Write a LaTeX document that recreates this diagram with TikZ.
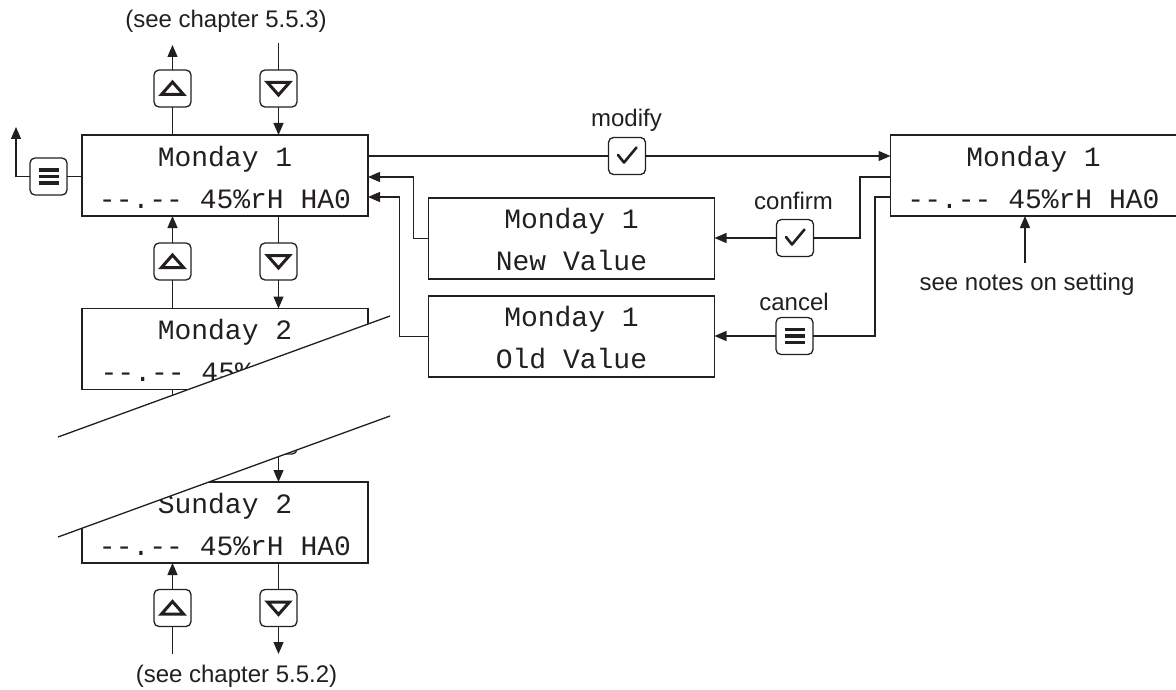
\documentclass[tikz,border=0pt]{standalone}
\usepackage{fontspec}
\setmainfont{Liberation Sans}
\newfontfamily\lcdfont{Liberation Mono}
\usetikzlibrary{arrows.meta,calc}
\definecolor{ink}{RGB}{35,31,32}
\begin{document}
\begin{tikzpicture}[x=1pt,y=-1pt, line width=1.3pt, color=ink,
  lcd/.style={draw, minimum width=286pt, minimum height=81pt, inner sep=0pt, outer sep=0pt},
  lcdtxt/.style={font=\lcdfont\fontsize{28}{30}\selectfont, inner sep=0pt, anchor=base},
  lbl/.style={font=\fontsize{24}{28}\selectfont, inner sep=0pt, anchor=base},
  btn/.style={draw, rounded corners=5pt, minimum size=37pt, inner sep=0pt, outer sep=0pt},
  upbtn/.style={btn, path picture={\draw[sharp corners, line width=3pt, line join=miter]
      ([shift={(-11pt,-6pt)}]path picture bounding box.center) -- ++(22pt,0pt) -- ++(-11pt,12.5pt) -- cycle;}},
  dnbtn/.style={btn, path picture={\draw[sharp corners, line width=3pt, line join=miter]
      ([shift={(-11pt,6pt)}]path picture bounding box.center) -- ++(22pt,0pt) -- ++(-11pt,-12.5pt) -- cycle;}},
  okbtn/.style={btn, path picture={\draw[sharp corners, line width=2.6pt, line cap=round, line join=round]
      ([shift={(-9pt,1pt)}]path picture bounding box.center) -- ++(6pt,-7.5pt) -- ++(12.5pt,15pt);}},
  menubtn/.style={btn, path picture={\foreach \dy in {-6.5,0,6.5}{\draw[sharp corners, line width=3.2pt]
      ([shift={(-10pt,\dy pt)}]path picture bounding box.center) -- ++(20pt,0pt);}}},
  arr/.style={-{Triangle[length=12pt,width=10pt]}}
]
\useasboundingbox (0,0) rectangle (1176,690);

% ---------- left column ----------
\node[lcd] (m1) at (225,175.5) {};
\node[lcdtxt] (m1a) at ([yshift=-31.5pt]m1.north) {Monday 1};
\node[lcdtxt] (m1b) at ([yshift=-73pt]m1.north) {-{}-.-{}- 45\%rH HA0};

\node[upbtn] (u0) at (172.5,88.5) {};
\node[dnbtn] (d0) at (278.5,88.5) {};
\coordinate (u0t) at (172.5,45);
\coordinate (d0t) at (278.5,43);
\node[lbl] (ch3) at (226,28) {(see chapter 5.5.3)};
\draw (m1.north -| u0) -- (u0.south);
\draw[arr] (u0.north) -- (u0t);
\draw (d0t) -- (d0.north);
\draw[arr] (d0.south) -- (m1.north -| d0);

\node[menubtn] (mn) at (48.5,176.5) {};
\coordinate (mnt) at (16,127);
\draw (m1.west |- mn) -- (mn.east);
\draw[arr] (mn.west) -| (mnt);

\node[lcd] (m2) at (225,349) {};
\node[lcdtxt] (m2a) at ([yshift=-31pt]m2.north) {Monday 2};
\node[lcdtxt, anchor=base west] (m2b) at (100,381) {-{}-.-{}- 45\%};

\node[upbtn] (u1) at (172.5,261.5) {};
\node[dnbtn] (d1) at (278.5,261.5) {};
\draw (m2.north -| u1) -- (u1.south);
\draw[arr] (u1.north) -- (m1.south -| u1);
\draw (m1.south -| d1) -- (d1.north);
\draw[arr] (d1.south) -- (m2.north -| d1);

\node[lcd] (s2) at (225,522.5) {};
\node[lcdtxt] (s2a) at ([yshift=-31.5pt]s2.north) {Sunday 2};
\node[lcdtxt] (s2b) at ([yshift=-73pt]s2.north) {-{}-.-{}- 45\%rH HA0};

\node[upbtn] (u2) at (172.5,435.5) {};
\node[dnbtn] (d2) at (278.5,435.5) {};
\draw (s2.north -| u2) -- (u2.south);
\draw (u2.north) -- (m2.south -| u2);
\draw (m2.south -| d2) -- (d2.north);
\draw[arr] (d2.south) -- (s2.north -| d2);

\node[upbtn] (u3) at (172.5,608) {};
\node[dnbtn] (d3) at (278.5,608) {};
\coordinate (u3b) at (172.5,654);
\coordinate (d3b) at (278.5,654);
\node[lbl] (ch2) at (236.5,682) {(see chapter 5.5.2)};
\draw[arr] (u3.north) -- (s2.south -| u3);
\draw (u3b) -- (u3.south);
\draw (s2.south -| d3) -- (d3.north);
\draw[arr] (d3.south) -- (d3b);

% ---------- break mask ----------
\coordinate (b1) at (58,437);
\coordinate (b2) at (390,316);
\coordinate (b3) at (390,416);
\coordinate (b4) at (58,537);
\fill[white] (b1) -- (b2) -- (b3) -- (b4) -- cycle;
\draw (b1) -- (b2);
\draw (b4) -- (b3);

% ---------- middle ----------
\node[lcd] (nv) at (571.5,238.5) {};
\node[lcdtxt] (nva) at ([yshift=-30.5pt]nv.north) {Monday 1};
\node[lcdtxt] (nvb) at ([yshift=-72.5pt]nv.north) {New Value};

\node[lcd] (ov) at (571.5,336.5) {};
\node[lcdtxt] (ova) at ([yshift=-30.5pt]ov.north) {Monday 1};
\node[lcdtxt] (ovb) at ([yshift=-72.5pt]ov.north) {Old Value};

% ---------- right ----------
\node[lcd] (r1) at (1033.5,175.5) {};
\node[lcdtxt] (r1a) at ([yshift=-31.5pt]r1.north) {Monday 1};
\node[lcdtxt] (r1b) at ([yshift=-73pt]r1.north) {-{}-.-{}- 45\%rH HA0};

\node[okbtn] (mod) at (627,156) {};
\node[lbl] (modl) at (626.5,126.5) {modify};
\draw (m1.east |- mod) -- (mod.west);
\draw[arr] (mod.east) -- (r1.west |- mod);

\node[okbtn] (conf) at (795,238) {};
\node[lbl] (confl) at (793.5,210) {confirm};
\draw (r1.west |- 0,177) -| (860,238) -- (conf.east);
\draw[arr] (conf.west) -- (nv.east |- conf);

\node[menubtn] (canc) at (794.5,336) {};
\node[lbl] (cancl) at (794,310) {cancel};
\draw (r1.west |- 0,197) -| (875,336) -- (canc.east);
\draw[arr] (canc.west) -- (ov.east |- canc);

\draw[arr] (nv.west) -- ++(-15,0) |- (m1.east |- 0,177);
\draw[arr] (ov.west) -- ++(-29,0) |- (m1.east |- 0,197);

\node[lbl] (notes) at (1027,290) {see notes on setting};
\coordinate (nst) at (1025,263);
\draw[arr] (nst) -- (r1.south -| nst);
\end{tikzpicture}
\end{document}
